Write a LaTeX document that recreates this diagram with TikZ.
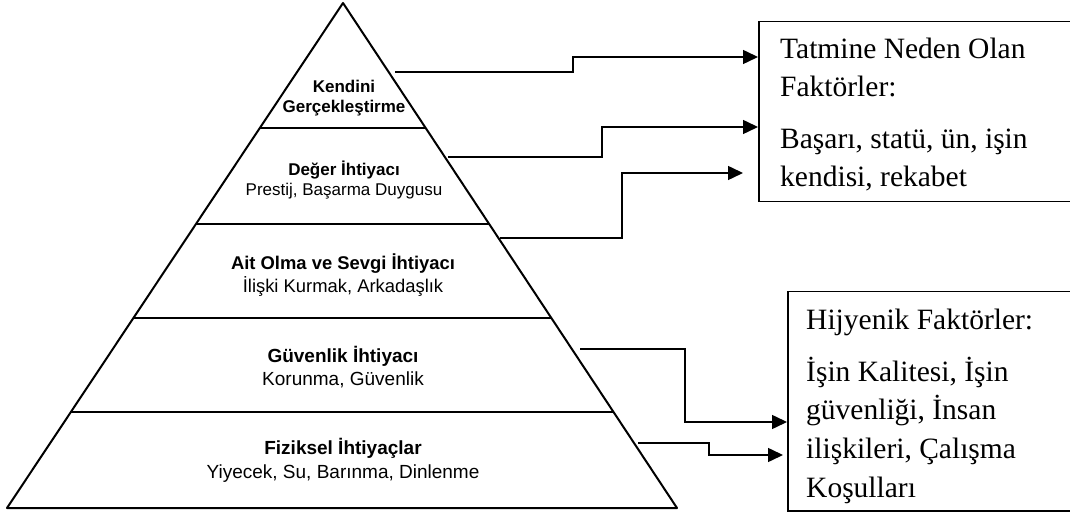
\documentclass[tikz,border=0pt]{standalone}
\usepackage{fontspec}
\setmainfont{Liberation Serif}
\newfontfamily\pyrfont{Liberation Sans}
\usetikzlibrary{arrows.meta,calc}
\tikzset{
  pyr/.style={draw=black,line width=2pt,line join=round},
  levelline/.style={draw=black,line width=2pt},
  leveltext/.style={align=center,inner sep=0pt},
  factorbox/.style={draw=black,line width=1.5pt,inner sep=0pt,anchor=north west},
  boxtext/.style={anchor=base west,inner sep=0pt,font=\fontsize{29.5}{32}\selectfont},
  conn/.style={draw=black,line width=1.5pt,-{Triangle[length=15pt,width=14pt]}}
}
\newcommand{\pyrsize}[2]{\pyrfont\fontsize{#1}{#2}\selectfont}
\begin{document}
\begin{tikzpicture}[x=1pt,y=-1pt]
\useasboundingbox (0,0) rectangle (1070,518);
\clip (0,0) rectangle (1070,518);
% pyramid
\coordinate (A) at (343,3);
\coordinate (L) at (7,508);
\coordinate (R) at (677,508);
\draw[pyr] (A) -- (R) -- (L) -- cycle;
\foreach \yy in {128,224,318,412}{
  \draw[levelline] ($(A)!{(\yy-3)/505}!(L)$) -- ($(A)!{(\yy-3)/505}!(R)$);
}
% level texts
\node[leveltext,font=\pyrsize{17}{20}] (k1) at (344,98) {\textbf{Kendini}\\\textbf{Gerçekleştirme}};
\node[leveltext,font=\pyrsize{17}{20.5}] (k2) at (344,180) {\textbf{Değer İhtiyacı}\\Prestij, Başarma Duygusu};
\node[leveltext,font=\pyrsize{18.4}{23}] (k3) at (343,275) {\textbf{Ait Olma ve Sevgi İhtiyacı}\\İlişki Kurmak, Arkadaşlık};
\node[leveltext,font=\pyrsize{19}{22.5}] (k4) at (343,367) {\textbf{Güvenlik İhtiyacı}\\Korunma, Güvenlik};
\node[leveltext,font=\pyrsize{19}{24}] (k5) at (343,460) {\textbf{Fiziksel İhtiyaçlar}\\Yiyecek, Su, Barınma, Dinlenme};
% boxes (their right sides run past the picture's edge)
\node[factorbox,minimum width=330pt,minimum height=180pt] (top) at (758,21) {};
\node[boxtext] (t1) at (780,59) {Tatmine Neden Olan};
\node[boxtext] (t2) at (780,97) {Faktörler:};
\node[boxtext] (t3) at (780,149) {Başarı, statü, ün, işin};
\node[boxtext] (t4) at (780,187) {kendisi, rekabet};
\node[factorbox,minimum width=300pt,minimum height=219pt] (bot) at (787,291) {};
\node[boxtext] (b1) at (806,330) {Hijyenik Faktörler:};
\node[boxtext] (b2) at (806,381) {İşin Kalitesi, İşin};
\node[boxtext] (b3) at (806,419) {güvenliği, İnsan};
\node[boxtext] (b4) at (806,458) {ilişkileri, Çalışma};
\node[boxtext] (b5) at (806,497) {Koşulları};
% connectors
\coordinate (s1) at (395,72);
\coordinate (s2) at (448,157);
\coordinate (s3) at (500,238);
\coordinate (s4) at (580,349);
\coordinate (s5) at (638,443);
\coordinate (e1) at (758,57);
\coordinate (e2) at (758,127);
\coordinate (e3) at (743,173);
\coordinate (e4) at (787,422);
\coordinate (e5) at (783,455);
\draw[conn] (s1) -| (573,57) -- (e1);
\draw[conn] (s2) -| (602,127) -- (e2);
\draw[conn] (s3) -| (622,173) -- (e3);
\draw[conn] (s4) -| (685,422) -- (e4);
\draw[conn] (s5) -| (709,455) -- (e5);
\end{tikzpicture}
\end{document}
